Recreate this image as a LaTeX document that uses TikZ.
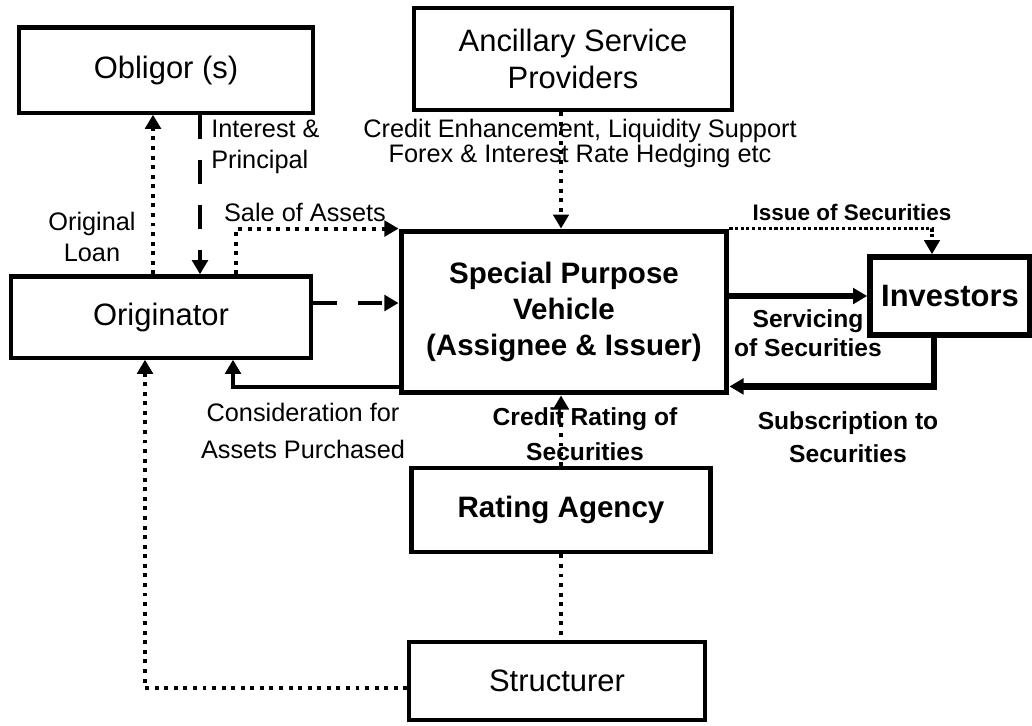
\documentclass[tikz,border=0pt]{standalone}
\usepackage{fontspec}
\setmainfont{Liberation Sans}
\usetikzlibrary{arrows.meta,calc}
\begin{document}
\begin{tikzpicture}[x=.025cm,y=-.025cm,
    box/.style={draw,line width=3pt,align=center,inner sep=0pt,font=\fontsize{22}{26}\selectfont},
    bbox/.style={box,line width=4pt,font=\fontsize{21}{25.6}\selectfont\bfseries},
    lab/.style={align=center,inner sep=0pt,font=\fontsize{18}{#1}\selectfont},lab/.default=22pt,
    blab/.style={align=center,inner sep=0pt,font=\fontsize{17.5}{#1}\selectfont\bfseries},blab/.default=22pt,
    dotline/.style={line width=2.8pt,dash pattern=on 2.8pt off 4pt},
    finedots/.style={line width=2.2pt,dash pattern=on 2.2pt off 1.8pt},
    dashes/.style={line width=2.8pt,dash pattern=on 17pt off 15pt},
    heavy/.style={line width=4.5pt},
    arr/.style={-{Triangle[length=10pt,width=11pt]}}]
    \useasboundingbox (0,0) rectangle (1032,725);
    \node[box,minimum width=7.33cm,minimum height=2.13cm] (obligor) at (166,70) {Obligor (s)};
    \node[box,minimum width=7.93cm,minimum height=2.55cm] (ancillary) at (573,59) {Ancillary Service\\Providers};
    \node[box,minimum width=7.48cm,minimum height=2.03cm] (originator) at (161,317) {Originator};
    \node[bbox,minimum width=8.13cm,minimum height=4.03cm] (spv) at (564,312) {Special Purpose\\Vehicle\\(Assignee \& Issuer)};
    \node[bbox,font=\fontsize{22}{26}\selectfont\bfseries,minimum width=4cm,minimum height=1.95cm] (investors) at (950,296) {Investors};
    \node[bbox,line width=3.4pt,minimum width=7.48cm,minimum height=2.1cm] (rating) at (561,510) {Rating Agency};
    \node[box,minimum width=7.38cm,minimum height=1.95cm] (structurer) at (557,681) {Structurer};
    \draw[dotline,arr] ($(originator.north)+(-8,0)$) coordinate (loan) -- (loan |- obligor.south);
    \draw[dashes,arr] ($(obligor.south)+(34,0)$) coordinate (repay) -- (repay |- originator.north);
    \draw[dotline,arr] ($(originator.north)+(75,0)$) |- (spv.north west);
    \draw[dashes,arr] ($(originator.east)+(0,-14)$) coordinate (sell) -- (sell -| spv.west);
    \draw[line width=2.8pt,arr] ($(spv.south west)+(0,-8)$) -| ($(originator.south)+(72,0)$);
    \draw[dotline,arr] (ancillary.south -| rating.north) -- (spv.north -| rating.north);
    \draw[finedots,arr] (spv.north east) -| ($(investors.north)+(-18,0)$);
    \draw[heavy,arr] (spv.east |- investors.west) -- (investors.west);
    \draw[heavy,arr] ($(investors.south)+(-16,0)$) |- ($(spv.south east)+(0,-9)$);
    \draw[dotline,arr] (rating.north) -- (rating.north |- spv.south);
    \draw[dotline] (rating.south) -- (rating.south |- structurer.north);
    \draw[dotline,arr] ($(structurer.west)+(0,7)$) -| ($(originator.south)+(-16,0)$);
    \node[lab] (loanlab) at (92,237) {Original\\Loan};
    \node[lab,align=left,anchor=west] (repaylab) at (211,147) {Interest \&\\Principal};
    \node[lab] (salelab) at (305,212) {Sale of Assets};
    \node[lab=16.5pt] (anclab) at (580,143) {Credit Enhancement, Liquidity Support\\Forex \& Interest Rate Hedging etc};
    \node[lab=26pt] (paylab) at (303,431) {Consideration for\\Assets Purchased};
    \node[blab=25pt] (ratelab) at (585,434) {Credit Rating of\\Securities};
    \node[blab,font=\fontsize{16}{16}\selectfont\bfseries] (issuelab) at (852,212) {Issue of Securities};
    \node[blab=21pt] (servlab) at (808,333) {Servicing\\of Securities};
    \node[blab=23.5pt] (sublab) at (848,437) {Subscription to\\Securities};
\end{tikzpicture}
\end{document}
